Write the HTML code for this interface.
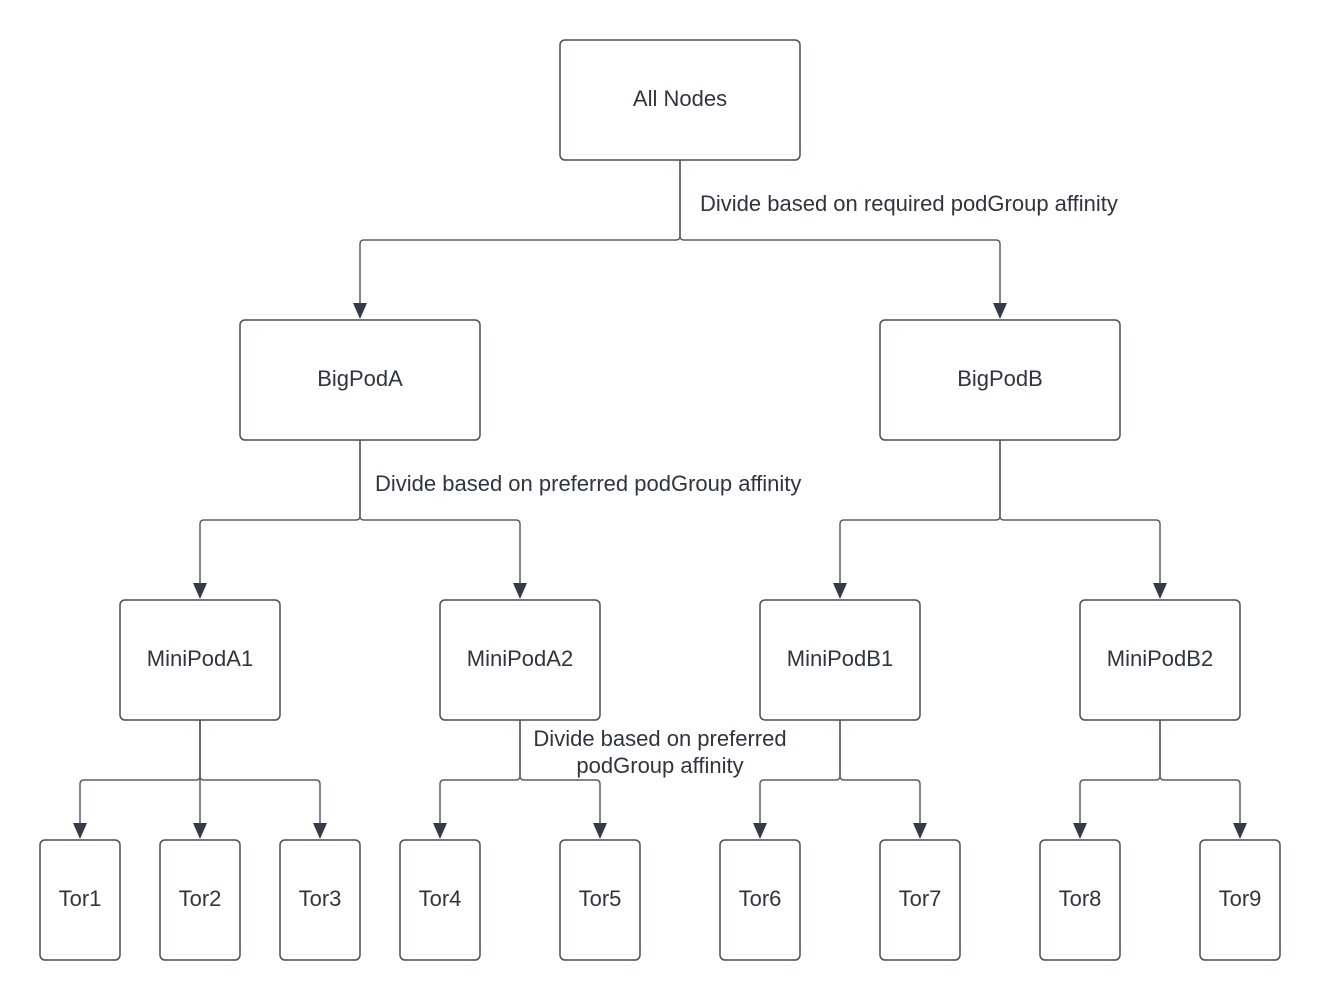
<!DOCTYPE html>
<html><head><meta charset="utf-8"><style>html,body{margin:0;padding:0;background:#fff}svg{display:block}</style></head>
<body>
<svg width="1320" height="1000" viewBox="0 0 1320 1000" xmlns="http://www.w3.org/2000/svg" font-family="Liberation Sans, sans-serif">
<g fill="none" stroke="#5a6069" stroke-width="1.5">
<path d="M680 160 V236 Q680 240 676 240 H364 Q360 240 360 244 V306"/>
<path d="M680 160 V236 Q680 240 684 240 H996 Q1000 240 1000 244 V306"/>
<path d="M360 440 V516 Q360 520 356 520 H204 Q200 520 200 524 V586"/>
<path d="M360 440 V516 Q360 520 364 520 H516 Q520 520 520 524 V586"/>
<path d="M1000 440 V516 Q1000 520 996 520 H844 Q840 520 840 524 V586"/>
<path d="M1000 440 V516 Q1000 520 1004 520 H1156 Q1160 520 1160 524 V586"/>
<path d="M200 720 V776 Q200 780 196 780 H84 Q80 780 80 784 V826"/>
<path d="M200 720 V826"/>
<path d="M200 720 V776 Q200 780 204 780 H316 Q320 780 320 784 V826"/>
<path d="M520 720 V776 Q520 780 516 780 H444 Q440 780 440 784 V826"/>
<path d="M520 720 V776 Q520 780 524 780 H596 Q600 780 600 784 V826"/>
<path d="M840 720 V776 Q840 780 836 780 H764 Q760 780 760 784 V826"/>
<path d="M840 720 V776 Q840 780 844 780 H916 Q920 780 920 784 V826"/>
<path d="M1160 720 V776 Q1160 780 1156 780 H1084 Q1080 780 1080 784 V826"/>
<path d="M1160 720 V776 Q1160 780 1164 780 H1236 Q1240 780 1240 784 V826"/>
</g>
<g fill="#343a45">
<polygon points="353,303 367,303 360,319"/>
<polygon points="993,303 1007,303 1000,319"/>
<polygon points="193,583 207,583 200,599"/>
<polygon points="513,583 527,583 520,599"/>
<polygon points="833,583 847,583 840,599"/>
<polygon points="1153,583 1167,583 1160,599"/>
<polygon points="73,823 87,823 80,839"/>
<polygon points="193,823 207,823 200,839"/>
<polygon points="313,823 327,823 320,839"/>
<polygon points="433,823 447,823 440,839"/>
<polygon points="593,823 607,823 600,839"/>
<polygon points="753,823 767,823 760,839"/>
<polygon points="913,823 927,823 920,839"/>
<polygon points="1073,823 1087,823 1080,839"/>
<polygon points="1233,823 1247,823 1240,839"/>
</g>
<g fill="#fff" stroke="#474d57" stroke-width="1.5">
<rect x="560" y="40" width="240" height="120" rx="5"/>
<rect x="240" y="320" width="240" height="120" rx="5"/>
<rect x="880" y="320" width="240" height="120" rx="5"/>
<rect x="120" y="600" width="160" height="120" rx="5"/>
<rect x="440" y="600" width="160" height="120" rx="5"/>
<rect x="760" y="600" width="160" height="120" rx="5"/>
<rect x="1080" y="600" width="160" height="120" rx="5"/>
<rect x="40" y="840" width="80" height="120" rx="5"/>
<rect x="160" y="840" width="80" height="120" rx="5"/>
<rect x="280" y="840" width="80" height="120" rx="5"/>
<rect x="400" y="840" width="80" height="120" rx="5"/>
<rect x="560" y="840" width="80" height="120" rx="5"/>
<rect x="720" y="840" width="80" height="120" rx="5"/>
<rect x="880" y="840" width="80" height="120" rx="5"/>
<rect x="1040" y="840" width="80" height="120" rx="5"/>
<rect x="1200" y="840" width="80" height="120" rx="5"/>
</g>
<rect x="527" y="726" width="266" height="52" fill="#fff"/>
<g fill="#2f3540" font-size="22" text-anchor="middle">
<text x="680" y="106">All Nodes</text>
<text x="360" y="386">BigPodA</text>
<text x="1000" y="386">BigPodB</text>
<text x="200" y="666">MiniPodA1</text>
<text x="520" y="666">MiniPodA2</text>
<text x="840" y="666">MiniPodB1</text>
<text x="1160" y="666">MiniPodB2</text>
<text x="80" y="906">Tor1</text>
<text x="200" y="906">Tor2</text>
<text x="320" y="906">Tor3</text>
<text x="440" y="906">Tor4</text>
<text x="600" y="906">Tor5</text>
<text x="760" y="906">Tor6</text>
<text x="920" y="906">Tor7</text>
<text x="1080" y="906">Tor8</text>
<text x="1240" y="906">Tor9</text>
<text x="660" y="746">Divide based on preferred</text>
<text x="660" y="773">podGroup affinity</text>
<text x="700" y="211" text-anchor="start">Divide based on required podGroup affinity</text>
<text x="375" y="491" text-anchor="start">Divide based on preferred podGroup affinity</text>
</g>
</svg>
</body></html>
